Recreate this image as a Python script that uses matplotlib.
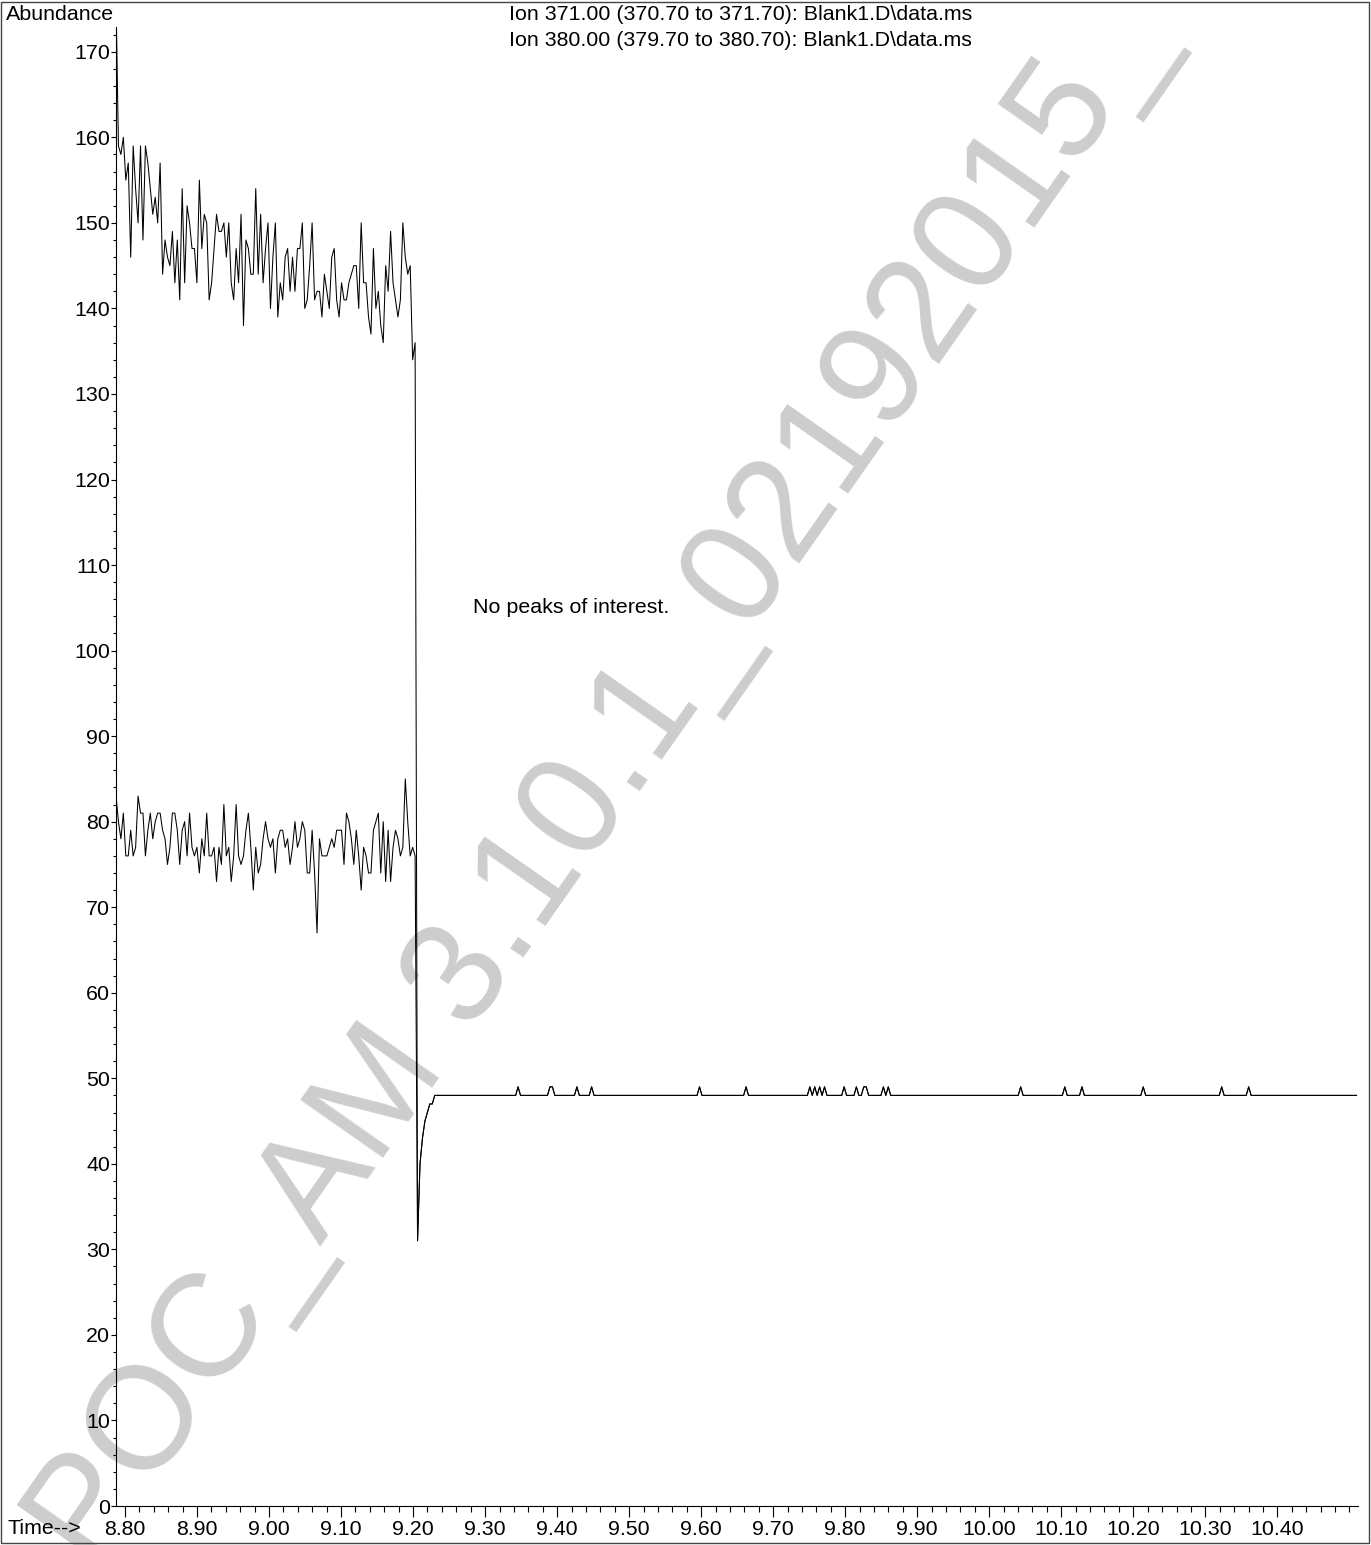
import numpy as np
import matplotlib
matplotlib.use("Agg")
import matplotlib.pyplot as plt
from matplotlib.ticker import MultipleLocator, FormatStrFormatter
from matplotlib.patches import Rectangle

plt.rcParams['font.family'] = ['Liberation Sans', 'DejaVu Sans']

# noisy part of the run, read scan by scan off the trace
scan_start = 8.7875
scan_end = 9.2028

ion371 = [176, 159, 158, 160, 155, 157, 146, 159, 154, 150,
          159, 148, 159, 157, 154, 151, 153, 150, 157, 144,
          148, 146, 145, 149, 143, 148, 141, 154, 143, 152,
          150, 147, 147, 143, 155, 147, 151, 150, 141, 143,
          147, 151, 149,
          149, 150, 146, 150, 143, 141, 147, 143, 151, 138,
          148, 147, 144, 144, 154, 144, 151, 143, 147, 150,
          140, 146, 150, 139, 143, 141, 146, 147, 142, 146,
          142, 147, 147, 150, 140, 141, 145, 150, 141, 142,
          142, 139, 144, 142, 140, 146, 147, 141, 139, 143,
          141, 141, 143, 144, 145, 145, 140, 150, 143, 143,
          139, 137, 147, 140, 142, 138, 136, 145, 142, 149,
          143, 141, 139, 141, 150, 146, 144, 145, 134, 136]

ion380 = [83, 80, 78, 81, 76, 76, 79, 76, 77, 83,
          81, 81, 76, 79, 81, 78, 80, 81, 81, 79,
          78, 75, 77, 81, 81, 79, 75, 79, 80, 76,
          81, 77, 76, 77, 74, 78, 76, 81, 76, 76,
          77, 73, 77, 75, 82, 76, 77, 73, 76, 82,
          76, 75, 76, 79, 81, 77, 72, 77, 74, 75,
          78, 80, 78, 77, 78, 74, 78, 79, 79, 77,
          78, 75, 77, 80, 77, 78, 80, 79, 74, 74,
          79, 74,
          67, 78, 76, 76, 76, 77, 78, 77, 79, 79,
          79, 75, 81, 80, 78, 75, 79, 76, 72, 77,
          76, 74, 74, 79, 80, 81, 74, 80, 73, 79,
          73, 77, 79, 78, 76, 77, 85, 80, 76, 77,
          76]

# dip and recovery shared by both ions
dip = [31, 40, 43, 45, 46, 47, 47]
baseline = 48
blip = 49
blip_times = [9.347, 9.391, 9.395, 9.428, 9.447, 9.599, 9.661,
              9.751, 9.756, 9.764, 9.771, 9.799, 9.816, 9.825, 9.829,
              9.853, 9.860, 10.043, 10.105, 10.129, 10.215, 10.322, 10.360]
run_end = 10.511

x_major = [8.8, 8.9, 9.0, 9.1, 9.2, 9.3, 9.4, 9.5, 9.6, 9.7, 9.8, 9.9,
           10.0, 10.1, 10.2, 10.3, 10.4]
title_lines = ["Ion 371.00 (370.70 to 371.70): Blank1.D\\data.ms",
               "Ion 380.00 (379.70 to 380.70): Blank1.D\\data.ms"]
watermark = "POC_AM 3.10.1_02192015_"


def build_trace(noise):
    t = np.linspace(scan_start, scan_end, len(noise))
    dt = (scan_end - scan_start) / (len(ion371) - 1)
    t_dip = scan_end + dt * np.arange(1, len(dip) + 1)
    t_tail = np.arange(t_dip[-1] + dt, run_end, dt)
    v_tail = np.full(len(t_tail), float(baseline))
    for bt in blip_times:
        v_tail[np.argmin(np.abs(t_tail - bt))] = blip
    return (np.concatenate([t, t_dip, t_tail]),
            np.concatenate([noise, dip, v_tail]))


W, H = 1371, 1545
fs = 15.4
fig = plt.figure(figsize=(W / 100, H / 100), dpi=100)
ax = fig.add_axes([116 / W, 1 - 1506 / H, (1358 - 116) / W, (1506 - 27) / H])
ax.patch.set_alpha(0)

# watermark under everything
fig.text(93 / W, 1 - 1572 / H, watermark, fontsize=105, color='#cdcdcd',
         rotation=55, rotation_mode='anchor', ha='left', va='baseline',
         zorder=-5)

for noise in (ion371, ion380):
    t, v = build_trace(noise)
    ax.plot(t, v, color='black', lw=0.75)

ax.set_xlim(8.7875, 10.512)
ax.set_ylim(0, 172.9)
ax.set_xticks(x_major)
ax.xaxis.set_major_formatter(FormatStrFormatter('%.2f'))
ax.xaxis.set_minor_locator(MultipleLocator(0.02))
ax.yaxis.set_major_locator(MultipleLocator(10))
ax.yaxis.set_minor_locator(MultipleLocator(2))
for s in ('top', 'right'):
    ax.spines[s].set_visible(False)
for s in ('left', 'bottom'):
    ax.spines[s].set_linewidth(0.8)
ax.tick_params(axis='x', which='major', length=8, width=0.8, pad=2, labelsize=fs)
ax.tick_params(axis='x', which='minor', length=4.5, width=0.8)
ax.tick_params(axis='y', which='major', length=3.6, width=0.8, pad=0.5, labelsize=fs)
ax.tick_params(axis='y', which='minor', length=2, width=0.8)

ax.text(9.2833, 105, "No peaks of interest.", fontsize=fs, va='center', ha='left')

fig.text(6 / W, 1 - 15 / H, "Abundance", fontsize=fs, va='center', ha='left')
fig.text(8 / W, 1 - 1528 / H, "Time-->", fontsize=fs, va='center', ha='left')
for i, line in enumerate(title_lines):
    fig.text(509 / W, 1 - (15 + 25 * i) / H, line, fontsize=fs,
             va='center', ha='left')

fig.patches.append(Rectangle((1 / W, 2 / H), 1368 / W, 1541 / H,
                             transform=fig.transFigure, fill=False,
                             lw=1, ec='#444444'))

fig.savefig("out.png", dpi=100)
